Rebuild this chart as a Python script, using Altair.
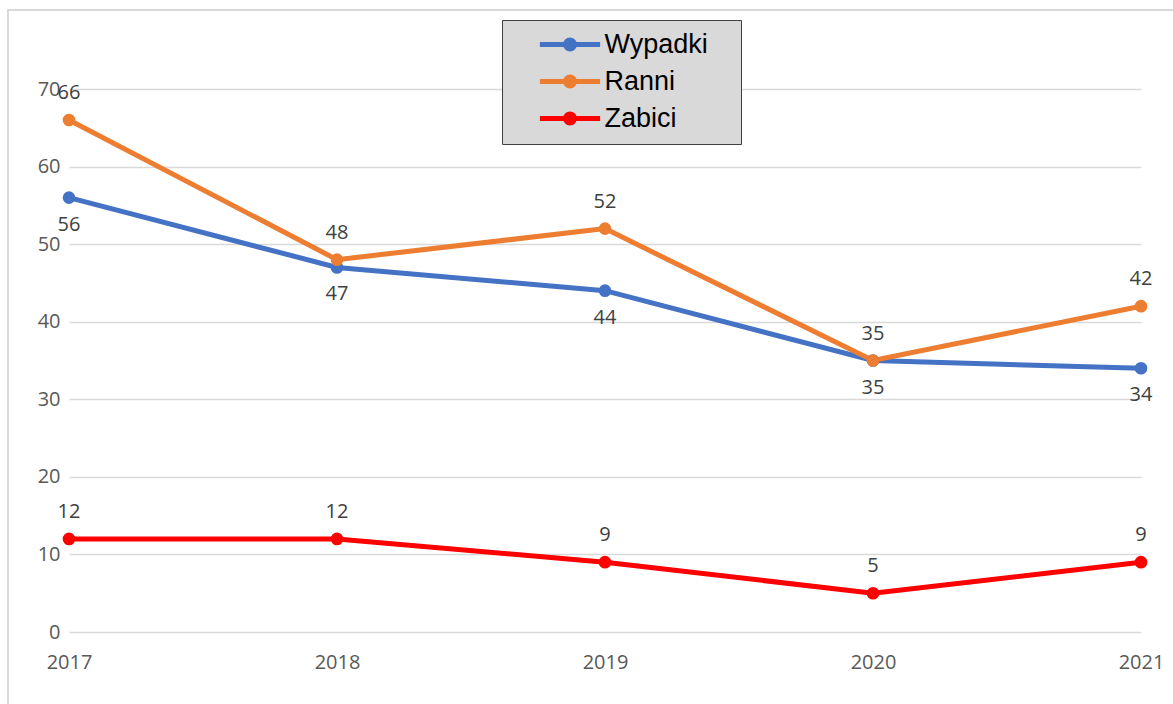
import altair as alt
import pandas as pd

years = [2017, 2018, 2019, 2020, 2021]
wypadki = [56, 47, 44, 35, 34]
ranni = [66, 48, 52, 35, 42]
zabici = [12, 12, 9, 5, 9]
series_names = ["Wypadki", "Ranni", "Zabici"]
series_colors = ["#4472C4", "#ED7D31", "#FF0000"]
label_side = ["below", "above", "above"]
y_ticks = [0, 10, 20, 30, 40, 50, 60, 70]

rows = []
for name, vals, side in zip(series_names, [wypadki, ranni, zabici], label_side):
    for yr, v in zip(years, vals):
        rows.append({"year": yr, "value": v, "series": name, "side": side})
df = pd.DataFrame(rows)

font = "Open Sans"
# legend glyph: line with a dot; the trailing move widens the legend box
sym = "M-4.3,0H4.3M0.64,0A0.64,0.64,0,1,1,-0.64,0A0.64,0.64,0,1,1,0.64,0ZM21.4,0"

x = alt.X("year:Q", scale=alt.Scale(domain=[2017, 2021], nice=False, zero=False),
          axis=alt.Axis(values=years, format="d", title=None, grid=False, domain=False,
                        ticks=False, labelFontSize=20, labelColor="#595959", labelFont=font,
                        labelPadding=20, labelFlush=False))
y = alt.Y("value:Q", scale=alt.Scale(domain=[0, 70], nice=False),
          axis=alt.Axis(values=y_ticks, title=None, domain=False, ticks=False,
                        gridColor="#d9d9d9", gridWidth=1.5, labelFontSize=20,
                        labelColor="#595959", labelFont=font, labelPadding=9))

leg = alt.Legend(
    orient="none", legendX=433, legendY=-69, title=None,
    fillColor="#d9d9d9", strokeColor="#404040", padding=11,
    symbolType=sym, symbolSize=196, symbolStrokeWidth=5, symbolOpacity=1,
    symbolOffset=43.5, labelOffset=21, labelFontSize=27,
    labelFont="Liberation Sans", labelColor="#000000", rowPadding=8,
)
cscale = alt.Scale(domain=series_names, range=series_colors)
stroke_enc = alt.Stroke("series:N", scale=cscale, sort=series_names, legend=leg)
fill_enc = alt.Fill("series:N", scale=cscale, sort=series_names, legend=leg)

base = alt.Chart(df)

frame = alt.Chart(pd.DataFrame({"a": [0]})).mark_rect(
    fill="transparent", stroke="#d9d9d9", strokeWidth=2
).encode(x=alt.value(-61), x2=alt.value(1200), y=alt.value(-79), y2=alt.value(700))

lines = base.mark_line(strokeWidth=5).encode(x=x, y=y, stroke=stroke_enc)
points = base.mark_point(filled=True, size=160, opacity=1).encode(x=x, y=y, fill=fill_enc)
text_below = base.transform_filter("datum.side == 'below'").mark_text(
    dy=27, fontSize=20, font=font, color="#404040"
).encode(x=x, y=y, text="value:Q")
text_above = base.transform_filter("datum.side == 'above'").mark_text(
    dy=-27, fontSize=20, font=font, color="#404040"
).encode(x=x, y=y, text="value:Q")

chart = alt.layer(frame, lines, points, text_below, text_above).properties(
    width=1072, height=543,
    autosize=alt.AutoSizeParams(type="none"),
    padding={"left": 69, "top": 89, "right": 32, "bottom": 72},
).configure_view(stroke=None)

chart.save("out.html", embed_options={"renderer": "svg", "actions": False})
